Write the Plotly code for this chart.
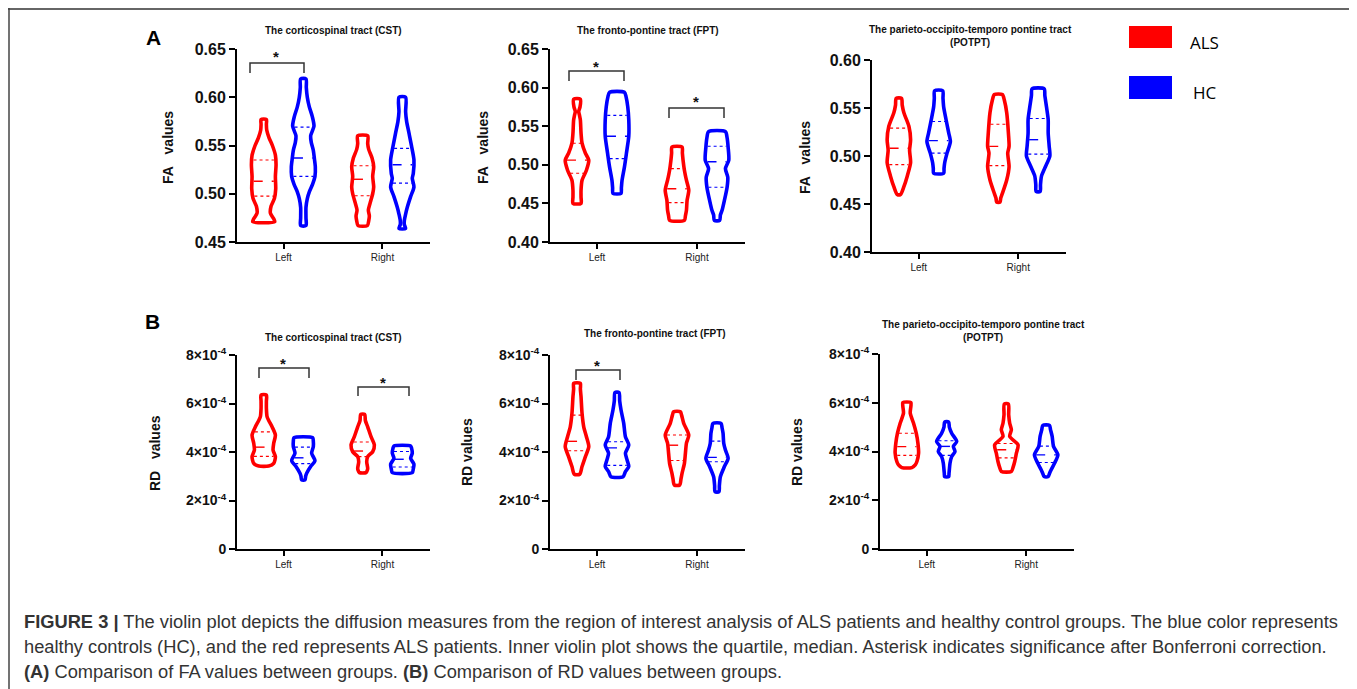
import numpy as np
import plotly.graph_objects as go

W, H = 1357, 689
RED = "#FF0000"
BLUE = "#0000FF"

CATEGORIES = ["Left", "Right"]

# ---------------- Panel A: FA values (profiles: y levels, half-width density) ----------------
fa_cst_als_left_y = [0.471, 0.474, 0.480, 0.487, 0.495, 0.505, 0.518, 0.530, 0.540, 0.550, 0.558, 0.566, 0.572, 0.577]
fa_cst_als_left_w = [33, 30, 20, 22, 32, 36, 35, 37, 35, 26, 16, 9, 8, 8]
fa_cst_als_left_q = [0.4975, 0.513, 0.535]
fa_cst_hc_left_y = [0.467, 0.475, 0.486, 0.495, 0.502, 0.510, 0.518, 0.528, 0.537, 0.545, 0.553, 0.560, 0.570, 0.580, 0.590, 0.600, 0.610, 0.619]
fa_cst_hc_left_w = [8, 8, 8, 12, 18, 28, 35, 36, 33, 30, 24, 22, 32, 27, 18, 12, 9, 8]
fa_cst_hc_left_q = [0.518, 0.537, 0.569]
fa_cst_als_right_y = [0.467, 0.472, 0.477, 0.483, 0.490, 0.500, 0.507, 0.518, 0.528, 0.537, 0.546, 0.552, 0.560]
fa_cst_als_right_w = [14, 18, 20, 17, 22, 30, 33, 30, 33, 28, 18, 15, 15]
fa_cst_als_right_q = [0.498, 0.515, 0.529]
fa_cst_hc_right_y = [0.464, 0.468, 0.472, 0.479, 0.486, 0.497, 0.507, 0.516, 0.521, 0.535, 0.549, 0.563, 0.575, 0.585, 0.600]
fa_cst_hc_right_w = [10, 6, 6, 10, 15, 25, 35, 30, 33, 35, 28, 20, 13, 10, 10]
fa_cst_hc_right_q = [0.511, 0.530, 0.547]

fa_fpt_als_left_y = [0.450, 0.458, 0.467, 0.480, 0.493, 0.506, 0.515, 0.528, 0.541, 0.558, 0.565, 0.569, 0.575, 0.585]
fa_fpt_als_left_w = [12, 12, 12, 15, 28, 35, 25, 15, 12, 10, 7, 5, 9, 10]
fa_fpt_als_left_q = [0.489, 0.506, 0.528]
fa_fpt_hc_left_y = [0.463, 0.470, 0.480, 0.497, 0.515, 0.537, 0.558, 0.575, 0.588, 0.594]
fa_fpt_hc_left_w = [12, 13, 15, 22, 28, 35, 35, 32, 27, 22]
fa_fpt_hc_left_q = [0.508, 0.537, 0.564]
fa_fpt_als_right_y = [0.428, 0.434, 0.441, 0.454, 0.467, 0.480, 0.493, 0.506, 0.515, 0.523]
fa_fpt_als_right_w = [22, 25, 28, 30, 35, 28, 22, 18, 16, 15]
fa_fpt_als_right_q = [0.451, 0.469, 0.495]
fa_fpt_hc_right_y = [0.428, 0.435, 0.441, 0.454, 0.471, 0.484, 0.495, 0.506, 0.523, 0.535, 0.543]
fa_fpt_hc_right_w = [8, 10, 15, 22, 30, 32, 25, 35, 33, 30, 25]
fa_fpt_hc_right_q = [0.471, 0.504, 0.524]

fa_potpt_als_left_y = [0.460, 0.468, 0.479, 0.493, 0.506, 0.517, 0.531, 0.545, 0.553, 0.560]
fa_potpt_als_left_w = [5, 15, 25, 35, 32, 35, 30, 15, 10, 8]
fa_potpt_als_left_q = [0.491, 0.508, 0.529]
fa_potpt_hc_left_y = [0.482, 0.487, 0.493, 0.503, 0.515, 0.524, 0.538, 0.551, 0.560, 0.568]
fa_potpt_hc_left_w = [15, 16, 18, 25, 35, 30, 22, 15, 13, 12]
fa_potpt_hc_left_q = [0.503, 0.516, 0.536]
fa_potpt_als_right_y = [0.452, 0.456, 0.461, 0.475, 0.489, 0.503, 0.510, 0.524, 0.545, 0.558, 0.564]
fa_potpt_als_right_w = [5, 7, 12, 25, 32, 28, 32, 30, 25, 18, 12]
fa_potpt_als_right_q = [0.490, 0.510, 0.533]
fa_potpt_hc_right_y = [0.463, 0.470, 0.479, 0.489, 0.500, 0.510, 0.524, 0.538, 0.551, 0.563, 0.570]
fa_potpt_hc_right_w = [6, 7, 10, 22, 35, 33, 30, 30, 25, 20, 18]
fa_potpt_hc_right_q = [0.502, 0.517, 0.539]

# ---------------- Panel B: RD values (in units of 1e-4) ----------------
RD_UNIT = 1e-4
rd_cst_als_left_y = [3.42, 3.53, 3.81, 4.08, 4.36, 4.70, 5.04, 5.30, 5.46, 5.80, 6.10, 6.35]
rd_cst_als_left_w = [15, 30, 35, 28, 30, 35, 25, 15, 10, 8, 8, 8]
rd_cst_als_left_q = [3.82, 4.20, 4.83]
rd_cst_hc_left_y = [2.85, 3.00, 3.12, 3.40, 3.64, 3.95, 4.22, 4.45, 4.59]
rd_cst_hc_left_w = [5, 7, 10, 22, 35, 25, 30, 30, 28]
rd_cst_hc_left_q = [3.52, 3.76, 4.20]
rd_cst_als_right_y = [3.15, 3.25, 3.33, 3.60, 3.81, 4.01, 4.29, 4.63, 5.04, 5.30, 5.55]
rd_cst_als_right_w = [10, 14, 15, 12, 15, 30, 35, 25, 15, 8, 6]
rd_cst_als_right_q = [3.81, 4.04, 4.41]
rd_cst_hc_right_y = [3.15, 3.30, 3.50, 3.74, 3.95, 4.15, 4.25]
rd_cst_hc_right_w = [30, 33, 35, 25, 30, 28, 25]
rd_cst_hc_right_q = [3.38, 3.70, 4.02]

rd_fpt_als_left_y = [3.08, 3.40, 3.81, 4.22, 4.63, 5.04, 5.59, 6.28, 6.60, 6.83]
rd_fpt_als_left_w = [8, 15, 25, 35, 28, 20, 15, 12, 10, 10]
rd_fpt_als_left_q = [4.05, 4.44, 5.52]
rd_fpt_hc_left_y = [2.98, 3.19, 3.40, 3.67, 3.95, 4.29, 4.63, 5.18, 5.73, 6.10, 6.45]
rd_fpt_hc_left_w = [18, 25, 35, 30, 25, 35, 25, 20, 12, 8, 6]
rd_fpt_hc_left_q = [3.45, 4.17, 4.42]
rd_fpt_als_right_y = [2.64, 2.90, 3.12, 3.53, 3.95, 4.36, 4.70, 5.18, 5.50, 5.66]
rd_fpt_als_right_w = [8, 12, 15, 22, 25, 28, 35, 20, 14, 10]
rd_fpt_als_right_q = [3.65, 4.28, 4.70]
rd_fpt_hc_right_y = [2.36, 2.60, 2.98, 3.40, 3.74, 4.08, 4.36, 4.77, 5.00, 5.18]
rd_fpt_hc_right_w = [6, 7, 10, 22, 33, 25, 20, 18, 15, 12]
rd_fpt_hc_right_q = [3.60, 3.78, 4.45]

rd_potpt_als_left_y = [3.34, 3.45, 3.59, 3.93, 4.34, 4.75, 5.16, 5.58, 5.85, 6.01]
rd_potpt_als_left_w = [15, 25, 30, 35, 33, 28, 20, 10, 12, 12]
rd_potpt_als_left_q = [3.84, 4.20, 4.75]
rd_potpt_hc_left_y = [2.97, 3.10, 3.25, 3.52, 3.79, 4.00, 4.21, 4.41, 4.75, 5.00, 5.21]
rd_potpt_hc_left_w = [6, 7, 8, 10, 15, 25, 20, 30, 15, 8, 6]
rd_potpt_hc_left_q = [3.84, 4.21, 4.44]
rd_potpt_als_right_y = [3.18, 3.35, 3.59, 3.93, 4.27, 4.62, 4.89, 5.16, 5.50, 5.95]
rd_potpt_als_right_w = [15, 20, 25, 30, 35, 10, 15, 10, 7, 6]
rd_potpt_als_right_q = [3.74, 4.07, 4.33]
rd_potpt_hc_right_y = [2.97, 3.10, 3.25, 3.52, 3.86, 4.21, 4.62, 4.90, 5.07]
rd_potpt_hc_right_w = [6, 10, 15, 25, 35, 22, 18, 13, 10]
rd_potpt_hc_right_q = [3.55, 3.86, 4.22]

FA_TICKS_A1 = [0.45, 0.50, 0.55, 0.60, 0.65]
FA_TICKS_A2 = [0.40, 0.45, 0.50, 0.55, 0.60, 0.65]
FA_TICKS_A3 = [0.40, 0.45, 0.50, 0.55, 0.60]
RD_TICKS = [0, 2, 4, 6, 8]
RD_TICKTEXT = ["0", "2×10<sup>-4</sup>", "4×10<sup>-4</sup>", "6×10<sup>-4</sup>", "8×10<sup>-4</sup>"]

TITLES = ["The corticospinal tract (CST)", "The fronto-pontine tract (FPT)",
          "The parieto-occipito-temporo pontine tract<br>(POTPT)"]

# ---------------- helpers ----------------
PAGE_OFFSET = 8  # the page's body margin shifts the figure by 8 px

def px(x):
    return (x - PAGE_OFFSET) / W

def py(y):
    return 1 - (y - PAGE_OFFSET) / H

WIDTH_SCALE = 1 / 297.0   # density units -> x data units
OFFSET = 0.2

fig = go.Figure()

def add_violin(k, cat_idx, group, ys, ws, qs, scale=1.0):
    color = RED if group == "ALS" else BLUE
    center = cat_idx + (-OFFSET if group == "ALS" else OFFSET)
    ys = np.array(ys, dtype=float) * scale
    half = np.array(ws, dtype=float) * WIDTH_SCALE
    xr = center + half
    xl = center - half
    xs = np.concatenate([xr, xl[::-1], xr[:1]])
    yy = np.concatenate([ys, ys[::-1], ys[:1]])
    ax = "" if k == 1 else str(k)
    fig.add_trace(go.Scatter(x=xs, y=yy, mode="lines", xaxis="x" + ax, yaxis="y" + ax,
                             line=dict(color=color, width=3.6, shape="spline", smoothing=0.7),
                             showlegend=False, hoverinfo="skip"))
    for q, dash, lw in zip(qs, ["dot", "dash", "dot"], [1.1, 1.4, 1.1]):
        qv = q * scale
        h = np.interp(qv, ys, half) * 0.85
        fig.add_trace(go.Scatter(x=[center - h, center + h], y=[qv, qv], mode="lines",
                                 xaxis="x" + ax, yaxis="y" + ax,
                                 line=dict(color=color, width=lw, dash=dash),
                                 showlegend=False, hoverinfo="skip"))

panels = [
    (1, [(0, "ALS", fa_cst_als_left_y, fa_cst_als_left_w, fa_cst_als_left_q),
         (0, "HC", fa_cst_hc_left_y, fa_cst_hc_left_w, fa_cst_hc_left_q),
         (1, "ALS", fa_cst_als_right_y, fa_cst_als_right_w, fa_cst_als_right_q),
         (1, "HC", fa_cst_hc_right_y, fa_cst_hc_right_w, fa_cst_hc_right_q)], 1.0),
    (2, [(0, "ALS", fa_fpt_als_left_y, fa_fpt_als_left_w, fa_fpt_als_left_q),
         (0, "HC", fa_fpt_hc_left_y, fa_fpt_hc_left_w, fa_fpt_hc_left_q),
         (1, "ALS", fa_fpt_als_right_y, fa_fpt_als_right_w, fa_fpt_als_right_q),
         (1, "HC", fa_fpt_hc_right_y, fa_fpt_hc_right_w, fa_fpt_hc_right_q)], 1.0),
    (3, [(0, "ALS", fa_potpt_als_left_y, fa_potpt_als_left_w, fa_potpt_als_left_q),
         (0, "HC", fa_potpt_hc_left_y, fa_potpt_hc_left_w, fa_potpt_hc_left_q),
         (1, "ALS", fa_potpt_als_right_y, fa_potpt_als_right_w, fa_potpt_als_right_q),
         (1, "HC", fa_potpt_hc_right_y, fa_potpt_hc_right_w, fa_potpt_hc_right_q)], 1.0),
    (4, [(0, "ALS", rd_cst_als_left_y, rd_cst_als_left_w, rd_cst_als_left_q),
         (0, "HC", rd_cst_hc_left_y, rd_cst_hc_left_w, rd_cst_hc_left_q),
         (1, "ALS", rd_cst_als_right_y, rd_cst_als_right_w, rd_cst_als_right_q),
         (1, "HC", rd_cst_hc_right_y, rd_cst_hc_right_w, rd_cst_hc_right_q)], RD_UNIT),
    (5, [(0, "ALS", rd_fpt_als_left_y, rd_fpt_als_left_w, rd_fpt_als_left_q),
         (0, "HC", rd_fpt_hc_left_y, rd_fpt_hc_left_w, rd_fpt_hc_left_q),
         (1, "ALS", rd_fpt_als_right_y, rd_fpt_als_right_w, rd_fpt_als_right_q),
         (1, "HC", rd_fpt_hc_right_y, rd_fpt_hc_right_w, rd_fpt_hc_right_q)], RD_UNIT),
    (6, [(0, "ALS", rd_potpt_als_left_y, rd_potpt_als_left_w, rd_potpt_als_left_q),
         (0, "HC", rd_potpt_hc_left_y, rd_potpt_hc_left_w, rd_potpt_hc_left_q),
         (1, "ALS", rd_potpt_als_right_y, rd_potpt_als_right_w, rd_potpt_als_right_q),
         (1, "HC", rd_potpt_hc_right_y, rd_potpt_hc_right_w, rd_potpt_hc_right_q)], RD_UNIT),
]
for k, vs, scale in panels:
    for cat, grp, ys, ws, qs in vs:
        add_violin(k, cat, grp, ys, ws, qs, scale)

# ---------------- axes ----------------
axes_spec = [
    (237, 430, 49, 242, [0.45, 0.65], FA_TICKS_A1, [f"{v:.2f}" for v in FA_TICKS_A1], 16),
    (550, 745, 49, 242, [0.40, 0.65], FA_TICKS_A2, [f"{v:.2f}" for v in FA_TICKS_A2], 16),
    (872, 1066, 60, 252, [0.40, 0.60], FA_TICKS_A3, [f"{v:.2f}" for v in FA_TICKS_A3], 16),
    (237, 430, 355, 549, [0, 8e-4], [v * RD_UNIT for v in RD_TICKS], RD_TICKTEXT, 14),
    (550, 745, 355, 549, [0, 8e-4], [v * RD_UNIT for v in RD_TICKS], RD_TICKTEXT, 14),
    (880, 1074, 354, 549, [0, 8e-4], [v * RD_UNIT for v in RD_TICKS], RD_TICKTEXT, 14),
]
layout_axes = {}
for i, (x0, x1, yt, yb, yr, tv, tt, fs) in enumerate(axes_spec, start=1):
    suf = "" if i == 1 else str(i)
    layout_axes["xaxis" + suf] = dict(
        domain=[px(x0), px(x1)], anchor="y" + suf, range=[-0.47, 1.48], automargin=False,
        tickvals=[0, 1], ticktext=CATEGORIES, ticks="outside", ticklen=5, tickwidth=2,
        tickcolor="black", showline=True, linewidth=2, linecolor="black",
        showgrid=False, zeroline=False,
        tickfont=dict(family="Arial, Liberation Sans", size=10, color="#222"))
    layout_axes["yaxis" + suf] = dict(
        domain=[py(yb), py(yt)], anchor="x" + suf, range=yr, automargin=False,
        tickvals=tv, ticktext=tt, ticks="outside", ticklen=6, tickwidth=2,
        tickcolor="black", showline=True, linewidth=2, linecolor="black",
        showgrid=False, zeroline=False,
        tickfont=dict(family="Arial, Liberation Sans", size=fs, color="#111", weight=700))

annotations = []

def ann(text, x, y, size, bold=False, color="#111", xanchor="center", yanchor="middle", angle=0, family="Arial, Liberation Sans"):
    annotations.append(dict(text=text, x=px(x), y=py(y), xref="paper", yref="paper",
                            showarrow=False, xanchor=xanchor, yanchor=yanchor, textangle=angle,
                            font=dict(family=family, size=size, color=color, weight=700 if bold else 400)))

# subplot titles
ann(TITLES[0], 333, 30, 10, bold=True)
ann(TITLES[1], 648, 30, 10, bold=True)
ann(TITLES[2], 970, 36, 10, bold=True)
ann(TITLES[0], 333, 338, 10, bold=True)
ann(TITLES[1], 655, 333, 10, bold=True)
ann(TITLES[2], 983, 331, 10, bold=True)

# y-axis titles
ann("FA\u00a0\u00a0\u00a0values", 168, 148, 14, bold=True, angle=-90)
ann("FA\u00a0\u00a0\u00a0values", 483, 148, 14, bold=True, angle=-90)
ann("FA\u00a0\u00a0\u00a0values", 805, 158, 14, bold=True, angle=-90)
ann("RD\u00a0\u00a0\u00a0values", 155, 453, 14, bold=True, angle=-90)
ann("RD values", 467, 452, 14, bold=True, angle=-90)
ann("RD values", 797, 452, 14, bold=True, angle=-90)

# panel letters
ann("A", 153, 37, 21, bold=True, color="#000")
ann("B", 152, 321, 21, bold=True, color="#000")

# significance stars
for sx, sy in [(276, 52), (596, 61), (696, 97), (283, 358), (383, 377), (597, 360)]:
    ann("*", sx, sy + 5, 15, bold=True, color="#111")

# legend text
ann("ALS", 1188, 42, 17, color="#000", xanchor="left", family="Open Sans, Liberation Sans")
ann("HC", 1191, 92, 17, color="#000", xanchor="left", family="Open Sans, Liberation Sans")

# caption
CAP_FONT = "Liberation Sans, Arial"
ann("<b>FIGURE 3 |</b> The violin plot depicts the diffusion measures from the region of interest analysis of ALS patients and healthy control groups. The blue color represents",
    22, 621, 18.3, color="#333", xanchor="left", family=CAP_FONT)
ann("healthy controls (HC), and the red represents ALS patients. Inner violin plot shows the quartile, median. Asterisk indicates significance after Bonferroni correction.",
    22, 646, 18.3, color="#333", xanchor="left", family=CAP_FONT)
ann("<b>(A)</b> Comparison of FA values between groups. <b>(B)</b> Comparison of RD values between groups.",
    22, 671, 18.3, color="#333", xanchor="left", family=CAP_FONT)

shapes = []

def bracket(x0, x1, ytop, ybot):
    path = f"M {px(x0)},{py(ybot)} L {px(x0)},{py(ytop)} L {px(x1)},{py(ytop)} L {px(x1)},{py(ybot)}"
    shapes.append(dict(type="path", path=path, xref="paper", yref="paper",
                       line=dict(color="#333", width=1.5)))

bracket(250, 304, 63, 73)
bracket(569, 624, 71, 81)
bracket(669, 724, 108, 118)
bracket(259, 309, 368, 378)
bracket(358, 409, 387, 396)
bracket(576, 620, 370, 380)

# legend swatches
shapes.append(dict(type="rect", xref="paper", yref="paper", x0=px(1129), x1=px(1172), y0=py(48), y1=py(26),
                   fillcolor=RED, line=dict(width=0)))
shapes.append(dict(type="rect", xref="paper", yref="paper", x0=px(1129), x1=px(1172), y0=py(99), y1=py(76),
                   fillcolor=BLUE, line=dict(width=0)))

# frame lines
shapes.append(dict(type="line", xref="paper", yref="paper", x0=px(8), x1=px(1354), y0=py(9), y1=py(9),
                   line=dict(color="#333", width=1.5)))
shapes.append(dict(type="line", xref="paper", yref="paper", x0=px(9), x1=px(9), y0=py(8), y1=py(697),
                   line=dict(color="#444", width=1.5)))
shapes.append(dict(type="line", xref="paper", yref="paper", x0=px(1354), x1=px(1354), y0=py(8), y1=py(697),
                   line=dict(color="#777", width=1.5)))

fig.update_layout(
    width=W, height=H, autosize=False, margin=dict(l=0, r=0, t=0, b=0, pad=0, autoexpand=False),
    paper_bgcolor="white", plot_bgcolor="white",
    showlegend=False, annotations=annotations, shapes=shapes,
    **layout_axes)

fig.write_html("out.html")
